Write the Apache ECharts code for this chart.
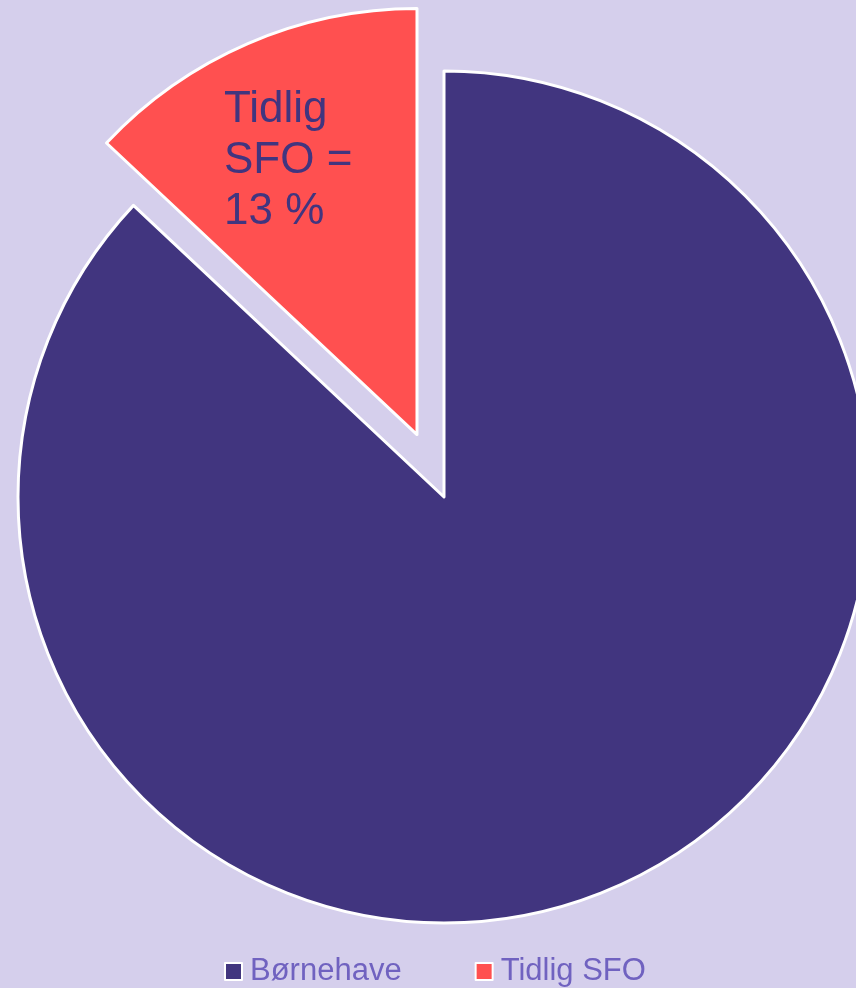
<!DOCTYPE html>
<html>
<head>
<meta charset="utf-8">
<script src="https://cdn.jsdelivr.net/npm/echarts@6/dist/echarts.min.js"></script>
<style>
html,body{margin:0;padding:0;background:#D5CFEC;}
#chart{width:856px;height:988px;}
</style>
</head>
<body>
<div id="chart"></div>
<script>
const categories = ['Børnehave', 'Tidlig SFO'];
const values = [87, 13];
const sliceColors = ['#41357F', '#FF5050'];
const labelLines = ['Tidlig', 'SFO =', '13 %'];

const chart = echarts.init(document.getElementById('chart'));
const data = categories.map((c, i) => ({
  name: c,
  value: values[i],
  selected: i === 1,
  itemStyle: { color: sliceColors[i] },
  select: { itemStyle: { color: sliceColors[i] } }
}));
chart.setOption({
  backgroundColor: '#D5CFEC',
  animation: false,
  title: {
    text: labelLines.join('\n'),
    left: 224,
    top: 84,
    padding: 0,
    textStyle: {
      color: '#41357F',
      fontSize: 44,
      fontWeight: 'normal',
      lineHeight: 51,
      fontFamily: 'Liberation Sans, Arial, sans-serif'
    }
  },
  legend: {
    data: categories,
    left: 224,
    top: 956,
    padding: 0,
    itemWidth: 17,
    itemHeight: 17,
    itemGap: 73,
    icon: 'rect',
    selectedMode: false,
    itemStyle: { borderColor: '#FFFFFF', borderWidth: 2 },
    textStyle: { color: '#7062C0', fontSize: 31, fontFamily: 'Liberation Sans, Arial, sans-serif', padding: [0, 0, 0, 3] }
  },
  series: [{
    type: 'pie',
    center: [444, 497],
    radius: [0, 426],
    startAngle: 90,
    clockwise: true,
    selectedMode: 'single',
    selectedOffset: 68,
    emphasis: { disabled: true },
    itemStyle: { borderColor: '#FFFFFF', borderWidth: 3 },
    label: { show: false },
    labelLine: { show: false },
    data: data
  }]
});
</script>
</body>
</html>
